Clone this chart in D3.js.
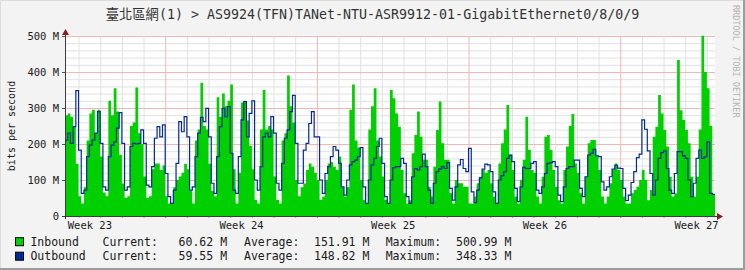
<!DOCTYPE html>
<html>
<head>
<meta charset="utf-8">
<script src="https://cdn.jsdelivr.net/npm/d3@7/dist/d3.min.js"></script>
<style>
  body { margin: 0; background: #f3f3f3; }
  svg text { font-family: "DejaVu Sans Mono", "Noto Sans CJK TC", monospace; }
</style>
</head>
<body>
<svg id="chart"></svg>
<script>
const chartTitle = '臺北區網(1) > AS9924(TFN)TANet-NTU-ASR9912-01-GigabitEthernet0/8/0/9'
const startTime = new Date(2024, 5, 5, 9)   // first sample
const stepHours = 3
// Mbit/s, one value per 3 hours, 30 days
const inbound = [
  280, 285, 275, 250, 145, 55, 35, 80, 210, 285,
  295, 230, 295, 165, 65, 55, 320, 280, 355, 290,
  170, 90, 50, 55, 250, 260, 357, 230, 200, 110,
  50, 55, 130, 146, 146, 128, 140, 55, 35, 35,
  80, 100, 110, 120, 145, 130, 70, 35, 210, 240,
  370, 250, 240, 145, 70, 55, 330, 275, 340, 305,
  320, 365, 130, 35, 120, 315, 320, 265, 195, 130,
  45, 35, 240, 350, 240, 250, 240, 110, 45, 35,
  210, 230, 390, 305, 260, 100, 55, 80, 90, 128,
  146, 137, 120, 100, 45, 54, 100, 146, 150, 137,
  128, 165, 80, 54, 80, 295, 365, 210, 190, 100,
  45, 35, 240, 305, 355, 210, 165, 110, 45, 35,
  350, 327, 285, 248, 128, 63, 35, 44, 174, 225,
  290, 220, 156, 156, 81, 54, 137, 239, 318, 202,
  156, 156, 63, 35, 100, 91, 91, 81, 81, 35,
  35, 54, 91, 109, 128, 120, 128, 91, 54, 35,
  146, 202, 240, 308, 170, 128, 54, 35, 100, 156,
  276, 183, 128, 120, 54, 35, 109, 220, 225, 183,
  128, 81, 44, 35, 128, 193, 250, 283, 146, 120,
  63, 35, 109, 202, 211, 211, 165, 128, 54, 35,
  54, 91, 128, 146, 128, 100, 54, 35, 35, 63,
  72, 81, 100, 128, 100, 44, 72, 220, 248, 336,
  285, 239, 193, 109, 54, 63, 433, 294, 267, 239,
  202, 109, 54, 109, 240, 501, 400, 355, 250, 61
]
const outbound = [
  211, 230, 202, 248, 348, 183, 63, 72, 165, 197,
  211, 230, 290, 202, 81, 72, 165, 197, 206, 244,
  287, 202, 72, 81, 193, 202, 200, 202, 239, 202,
  86, 81, 137, 216, 248, 220, 253, 118, 54, 35,
  72, 146, 262, 234, 276, 220, 72, 81, 165, 230,
  274, 262, 299, 220, 91, 63, 165, 248, 299, 276,
  304, 174, 72, 63, 165, 267, 318, 220, 285, 320,
  100, 72, 137, 220, 230, 220, 276, 230, 91, 72,
  146, 216, 239, 290, 335, 202, 91, 91, 183, 202,
  257, 290, 220, 220, 100, 63, 118, 137, 165, 193,
  183, 146, 81, 58, 100, 142, 151, 155, 165, 190,
  81, 35, 100, 142, 160, 193, 216, 146, 54, 35,
  100, 134, 137, 137, 160, 146, 54, 35, 109, 132,
  128, 137, 172, 137, 72, 35, 91, 123, 130, 137,
  132, 148, 77, 44, 81, 142, 157, 132, 123, 188,
  67, 37, 72, 106, 130, 144, 142, 123, 67, 35,
  100, 112, 123, 160, 169, 151, 77, 40, 81, 135,
  132, 132, 146, 151, 72, 63, 81, 118, 146, 148,
  151, 137, 58, 40, 81, 132, 137, 137, 155, 155,
  77, 54, 109, 169, 174, 185, 167, 165, 95, 72,
  81, 109, 130, 141, 133, 132, 77, 43, 58, 93,
  123, 162, 172, 267, 241, 181, 118, 58, 100, 160,
  176, 181, 132, 72, 63, 118, 179, 179, 167, 160,
  100, 54, 91, 160, 183, 160, 165, 206, 63, 60
]
const yTicks = [0, 100, 200, 300, 400, 500]
const weekLabels = ['Week 23', 'Week 24', 'Week 25', 'Week 26', 'Week 27']
const weekMondays = [new Date(2024, 5, 3), new Date(2024, 5, 10), new Date(2024, 5, 17),
  new Date(2024, 5, 24), new Date(2024, 6, 1)]
const legendNames = ['Inbound', 'Outbound']
const legendColors = ['#00cf00', '#002a97']
const legendCurrent = ['60.62 M', '59.55 M']
const legendAverage = ['151.91 M', '148.82 M']
const legendMaximum = ['500.99 M', '348.33 M']

const width = 745, height = 270
const margin = {top: 36, right: 30, bottom: 54, left: 65}
const endTime = d3.timeHour.offset(startTime, stepHours * inbound.length)

const x = d3.scaleTime()
  .domain([startTime, endTime])
  .range([margin.left, width - margin.right])
const y = d3.scaleLinear()
  .domain([0, 500])
  .range([height - margin.bottom, margin.top])
const x0 = margin.left, x1 = width - margin.right, yBase = y(0)

const svg = d3.select('#chart')
  .attr('width', width)
  .attr('height', height)

// background + border
svg.append('rect').attr('width', width).attr('height', height).attr('fill', '#f3f3f3')
svg.append('path').attr('d', `M0.5,${height}V0.5H${width}`)
  .attr('fill', 'none').attr('stroke', '#dcdcdc')
svg.append('path').attr('d', `M0,${height - 1}H${width - 1}V0`)
  .attr('fill', 'none').attr('stroke', '#9c9c9c').attr('stroke-width', 2)

// canvas
svg.append('rect')
  .attr('x', x0).attr('y', y(501))
  .attr('width', x1 - x0).attr('height', yBase - y(501))
  .attr('fill', '#ffffff')

// grid behind the data, drawn with axes like the tick grid trick
const minorY = d3.range(20, 500, 20).filter(d => d % 100 !== 0)
const days = d3.timeDay.range(d3.timeDay.ceil(startTime), endTime)
const gridAxes = [
  [d3.axisLeft(y).tickValues(minorY), '#e1e1e1', 'h'],
  [d3.axisBottom(x).tickValues(days.filter(d => d.getDay() !== 1)), '#e1e1e1', 'v'],
  [d3.axisLeft(y).tickValues(yTicks.slice(1)), '#f3b6b6', 'h'],
  [d3.axisBottom(x).tickValues(days.filter(d => d.getDay() === 1)), '#f3b6b6', 'v']
]
gridAxes.forEach(([axis, color, dir]) => {
  axis.tickFormat('').tickSizeOuter(0)
    .tickSize(dir === 'h' ? -(x1 - x0) : -(yBase - y(500)))
  svg.append('g')
    .attr('class', 'grid')
    .attr('transform', dir === 'h' ? `translate(${x0}, 0)` : `translate(0, ${yBase})`)
    .call(axis)
    .call(g => g.select('.domain').remove())
    .call(g => g.selectAll('line').attr('stroke', color))
})

// data, rrdtool style steps
const series = v => v.map((d, i) => ({t: d3.timeHour.offset(startTime, i * stepHours), v: d}))
  .concat([{t: endTime, v: v[v.length - 1]}])
const area = d3.area()
  .curve(d3.curveStepAfter)
  .x(d => x(d.t)).y0(yBase).y1(d => y(d.v))
const line = d3.line()
  .curve(d3.curveStepAfter)
  .x(d => x(d.t)).y(d => y(d.v))
svg.append('path').datum(series(inbound))
  .attr('d', area).attr('fill', legendColors[0])
svg.append('path').datum(series(outbound))
  .attr('d', line).attr('fill', 'none')
  .attr('stroke', legendColors[1]).attr('stroke-width', 1.2)

// axes
const yAxis = d3.axisLeft(y)
  .tickValues(yTicks)
  .tickSize(3)
  .tickPadding(3)
  .tickFormat(d => d ? d + ' M' : '0')
svg.append('g')
  .attr('transform', `translate(${x0}, 0)`)
  .call(yAxis)
  .call(g => g.select('.domain').remove())
  .call(g => g.selectAll('text').attr('font-size', 10.5).attr('fill', '#1a1a1a')
    .attr('font-family', '"DejaVu Sans Mono", monospace'))
  .call(g => g.selectAll('line').attr('stroke', '#555'))

const dayTicks = d3.axisBottom(x)
  .tickValues(days)
  .tickSize(2)
  .tickFormat('')
svg.append('g')
  .attr('transform', `translate(0, ${yBase})`)
  .call(dayTicks)
  .call(g => g.select('.domain').remove())
  .call(g => g.selectAll('line').attr('stroke', d => d.getDay() === 1 ? '#e07070' : '#aaa'))

const xAxis = d3.axisBottom(x)
  .tickValues(weekMondays.map(d => d3.timeHour.offset(d, 84)))
  .tickSize(0)
  .tickPadding(6)
  .tickFormat((d, i) => weekLabels[i])
svg.append('g')
  .attr('transform', `translate(0, ${yBase})`)
  .call(xAxis)
  .call(g => g.select('.domain').remove())
  .call(g => g.selectAll('text').attr('font-size', 10.5).attr('fill', '#1a1a1a')
    .attr('font-family', '"DejaVu Sans Mono", monospace'))

// axis lines with arrows
svg.append('line').attr('x1', x0 - 3).attr('x2', x1 + 5)
  .attr('y1', yBase + 0.5).attr('y2', yBase + 0.5).attr('stroke', '#3c3c3c')
svg.append('line').attr('x1', x0 + 0.5).attr('x2', x0 + 0.5)
  .attr('y1', yBase + 3).attr('y2', y(500) - 4).attr('stroke', '#3c3c3c')
svg.append('path')
  .attr('d', `M${x1 + 2},${yBase - 3}L${x1 + 8},${yBase + 0.5}L${x1 + 2},${yBase + 4}Z`)
  .attr('fill', '#8a1c1c')
svg.append('path')
  .attr('d', `M${x0 - 3},${y(500) - 1}L${x0 + 0.5},${y(500) - 7}L${x0 + 4},${y(500) - 1}Z`)
  .attr('fill', '#8a1c1c')

// titles
svg.append('text')
  .attr('x', width / 2).attr('y', 18.5)
  .attr('text-anchor', 'middle')
  .attr('font-size', 13.3).attr('fill', '#333')
  .text(chartTitle)
svg.append('text')
  .attr('transform', 'translate(15, 126) rotate(-90)')
  .attr('text-anchor', 'middle')
  .attr('font-size', 10).attr('fill', '#1a1a1a')
  .text('bits per second')
svg.append('text')
  .attr('transform', 'translate(733, 5) rotate(90)')
  .attr('font-size', 8.5).attr('fill', '#b4b4b4')
  .text('RRDTOOL / TOBI OETIKER')

// legend
const rows = svg.selectAll('.legend').data(legendNames).join('g')
  .attr('transform', (d, i) => `translate(0, ${245.7 + i * 14.5})`)
  .attr('font-size', 11.5).attr('fill', '#1a1a1a')
rows.append('rect')
  .attr('x', 15.5).attr('y', -8).attr('width', 8).attr('height', 8)
  .attr('fill', (d, i) => legendColors[i]).attr('stroke', '#000').attr('stroke-width', 1)
rows.append('text').attr('x', 30.4).text(d => d)
rows.append('text').attr('x', 102.5).text('Current:')
rows.append('text').attr('x', 178.6).text((d, i) => legendCurrent[i])
rows.append('text').attr('x', 244).text('Average:')
rows.append('text').attr('x', 314).text((d, i) => legendAverage[i])
rows.append('text').attr('x', 385.7).text('Maximum:')
rows.append('text').attr('x', 456).text((d, i) => legendMaximum[i])
</script>
</body>
</html>
